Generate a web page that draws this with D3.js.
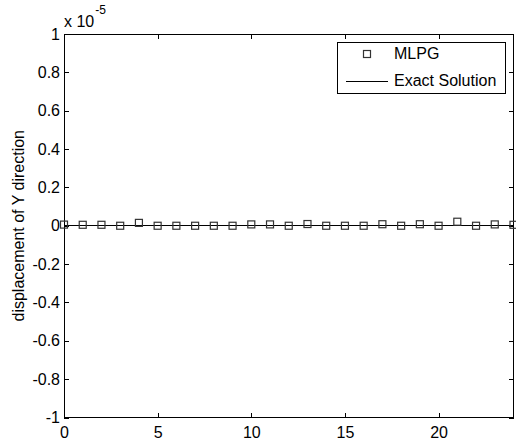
<!DOCTYPE html>
<html>
<head>
<meta charset="utf-8">
<script src="https://cdn.jsdelivr.net/npm/d3@7"></script>
<style>
  body { margin: 0; background: #fff; }
  svg { display: block; }
  text { font-family: "Liberation Sans", Arial, sans-serif; fill: #000; }
  line, .crisp { shape-rendering: crispEdges; }
</style>
</head>
<body>
<div id="scene"></div>
<script>
// node index along the line
var nodes = d3.range(0, 25);
// MLPG displacement, in units of 1e-5
var mlpgValues = [0.006, 0.005, 0.005, 0, 0.015, 0, 0, 0, 0, 0,
                  0.007, 0.007, 0, 0.009, 0, 0, 0, 0.008, 0, 0.008,
                  0, 0.021, 0, 0.007, 0.005];
// exact solution is zero everywhere
var exactX = [0, 24];
var exactY = [0, 0];
var xTicks = [0, 5, 10, 15, 20];
var yTicks = [-1, -0.8, -0.6, -0.4, -0.2, 0, 0.2, 0.4, 0.6, 0.8, 1];
var legendLabels = ["MLPG", "Exact Solution"];

var ctx = {
  w: 516,
  h: 443,
  left: 64,
  right: 513.5,
  top: 34,
  bottom: 417.5,
  font: "16px"
};

var svg = d3.select("#scene").append("svg")
  .attr("width", ctx.w)
  .attr("height", ctx.h);

var x = d3.scaleLinear().domain([0, 24]).range([ctx.left, ctx.right]);
var y = d3.scaleLinear().domain([-1, 1]).range([ctx.bottom, ctx.top]);

// axes box
svg.append("rect")
  .attr("class", "crisp")
  .attr("x", ctx.left)
  .attr("y", ctx.top)
  .attr("width", ctx.right - ctx.left)
  .attr("height", ctx.bottom - ctx.top)
  .attr("fill", "none")
  .attr("stroke", "#000")
  .attr("stroke-width", 1);

// ticks point inward, on all four sides (matlab style)
var tk = 5;
function drawAxis(axis, tx, ty) {
  var g = svg.append("g").attr("transform", "translate(" + tx + "," + ty + ")").call(axis);
  g.select(".domain").remove();
  g.selectAll("line").attr("stroke", "#000");
  g.selectAll("text").style("font-size", ctx.font).style("font-family", "'Liberation Sans', Arial, sans-serif");
  return g;
}

// plain hyphen for negatives, like the original
var fmtY = function(d) { var v = +d.toFixed(1); return (v < 0 ? "-" : "") + Math.abs(v); };

drawAxis(d3.axisBottom(x).tickValues(xTicks).tickSizeInner(-tk).tickPadding(9).tickFormat(d3.format("d")), 0, ctx.bottom);
drawAxis(d3.axisTop(x).tickValues(xTicks).tickSizeInner(-tk).tickFormat(""), 0, ctx.top);
drawAxis(d3.axisLeft(y).tickValues(yTicks).tickSizeInner(-tk).tickPadding(4).tickFormat(fmtY), ctx.left, 0);
drawAxis(d3.axisRight(y).tickValues(yTicks).tickSizeInner(-tk).tickFormat(""), ctx.right, 0);

// exponent label
var ex = svg.append("text").attr("x", ctx.left).attr("y", 27).style("font-size", ctx.font);
ex.append("tspan").text("x 10");
ex.append("tspan").attr("dy", -13).attr("dx", 1).style("font-size", "12px").text("-5");

// y axis title
svg.append("text")
  .attr("transform", "translate(23.5," + ((ctx.top + ctx.bottom) / 2) + ") rotate(-90)")
  .attr("text-anchor", "middle")
  .style("font-size", ctx.font)
  .text("displacement of Y direction");

// exact solution
svg.append("path")
  .attr("class", "crisp")
  .datum(exactX.map(function(d, i) { return [d, exactY[i]]; }))
  .attr("fill", "none")
  .attr("stroke", "#000")
  .attr("stroke-width", 1)
  .attr("d", d3.line().x(function(d) { return x(d[0]); }).y(function(d) { return y(d[1]); }));

// MLPG markers
var ms = 7;
svg.append("g").selectAll("rect")
  .data(nodes)
  .enter()
  .append("rect")
  .attr("x", function(d) { return x(d) - ms / 2; })
  .attr("y", function(d, i) { return y(mlpgValues[i]) - ms / 2; })
  .attr("width", ms)
  .attr("height", ms)
  .attr("fill", "none")
  .attr("stroke", "#333")
  .attr("stroke-width", 1.2);

// legend
var lg = svg.append("g").attr("transform", "translate(337,42)");
lg.append("rect")
  .attr("class", "crisp")
  .attr("x", 0.5).attr("y", 0.5)
  .attr("width", 168).attr("height", 51)
  .attr("fill", "#fff").attr("stroke", "#000");
lg.append("rect")
  .attr("x", 30 - ms / 2).attr("y", 12 - ms / 2)
  .attr("width", ms).attr("height", ms)
  .attr("fill", "none").attr("stroke", "#333").attr("stroke-width", 1.2);
lg.append("line")
  .attr("x1", 9).attr("x2", 51).attr("y1", 39).attr("y2", 39)
  .attr("stroke", "#000");
lg.selectAll("text.lab")
  .data(legendLabels)
  .enter()
  .append("text")
  .attr("class", "lab")
  .attr("x", 57)
  .attr("y", function(d, i) { return 17 + i * 27; })
  .style("font-size", ctx.font)
  .text(function(d) { return d; });
</script>
</body>
</html>
